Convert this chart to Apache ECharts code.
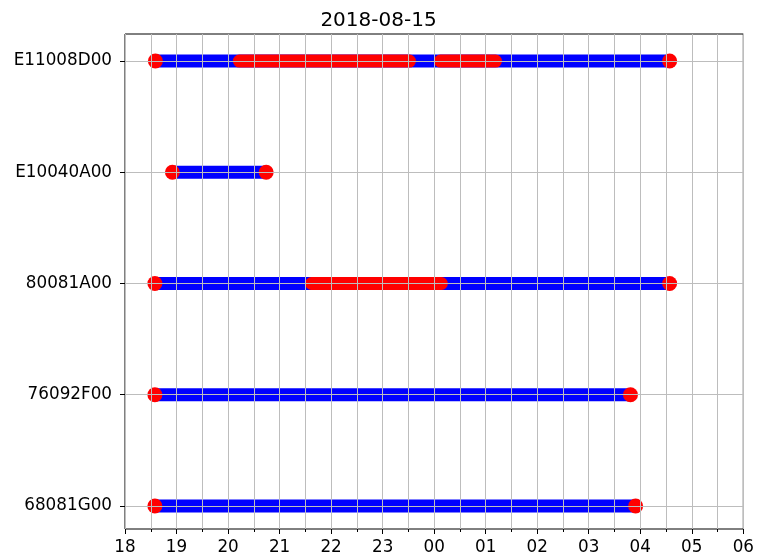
<!DOCTYPE html>
<html>
<head>
<meta charset="utf-8">
<script src="https://cdn.jsdelivr.net/npm/echarts@6/dist/echarts.min.js"></script>
<style>html,body{margin:0;padding:0;background:#fff}#c{width:757px;height:558px}</style>
</head>
<body>
<div id="c"></div>
<script>
// Rows (bottom to top)
const categories = ['68081G00', '76092F00', '80081A00', 'E10040A00', 'E11008D00'];
// Start / end time of each row (hours since 00:00 on 2018-08-15; >24 = next day)
const startTimes = [18.58, 18.58, 18.58, 18.92, 18.59];
const endTimes = [27.91, 27.81, 28.57, 20.74, 28.57];
// Red intervals
const redRow = [2, 4, 4];
const redStart = [21.62, 20.22, 24.12];
const redEnd = [24.14, 23.52, 25.19];
const yTicks = [0, 1, 2, 3, 4];
const title = '2018-08-15';

const series = [];
categories.forEach((c, i) => {
  series.push({
    type: 'line', data: [[startTimes[i], i], [endTimes[i], i]],
    symbol: 'none', z: 2, silent: true,
    lineStyle: { color: '#0000ff', width: 13, cap: 'butt' }
  });
});
redRow.forEach((r, k) => {
  series.push({
    type: 'line', data: [[redStart[k], r], [redEnd[k], r]],
    symbol: 'none', z: 3, silent: true,
    lineStyle: { color: '#ff0000', width: 13, cap: 'round' }
  });
});
const pts = [];
categories.forEach((c, i) => { pts.push([startTimes[i], i]); pts.push([endTimes[i], i]); });
series.push({
  type: 'scatter', data: pts, symbol: 'circle', symbolSize: 15, z: 4, silent: true,
  itemStyle: { color: '#ff0000', opacity: 1 }
});
// horizontal grid lines drawn above the marks
series.push({
  type: 'line', data: [], z: 10, silent: true,
  markLine: {
    silent: true, symbol: 'none', animation: false,
    label: { show: false },
    lineStyle: { color: '#bdbdbd', width: 1, type: 'solid' },
    data: yTicks.map(v => ({ yAxis: v }))
  }
});

const chart = echarts.init(document.getElementById('c'), null, { renderer: 'canvas' });
chart.setOption({
  animation: false,
  title: {
    text: title, left: 'center', top: 6,
    textStyle: { fontFamily: 'DejaVu Sans', fontSize: 20, fontWeight: 'normal', color: '#000' }
  },
  grid: { left: 125, right: 9, top: 34, bottom: 29, show: true, borderColor: '#000', borderWidth: 1, backgroundColor: 'transparent' },
  xAxis: {
    type: 'value', min: 18, max: 30, interval: 1, z: 10,
    axisLine: { show: false, onZero: false },
    axisTick: { show: true, length: 5, lineStyle: { color: '#000' } },
    minorTick: { show: true, splitNumber: 2, length: 3, lineStyle: { color: '#000' } },
    splitLine: { show: true, lineStyle: { color: '#bdbdbd', width: 1 } },
    minorSplitLine: { show: true, lineStyle: { color: '#bdbdbd', width: 1 } },
    axisLabel: {
      margin: 10, color: '#000', fontFamily: 'DejaVu Sans', fontSize: 16.8,
      formatter: v => String(Math.round(v) % 24).padStart(2, '0')
    }
  },
  yAxis: {
    type: 'value', min: -0.207, max: 4.243, z: 10,
    axisLine: { show: false, onZero: false },
    axisTick: { show: true, length: 5, customValues: yTicks, lineStyle: { color: '#000' } },
    splitLine: { show: false },
    axisLabel: {
      customValues: yTicks, margin: 13, color: '#000', fontFamily: 'DejaVu Sans', fontSize: 16.8,
      formatter: v => categories[Math.round(v)] || ''
    }
  },
  series: series
});
</script>
</body>
</html>
